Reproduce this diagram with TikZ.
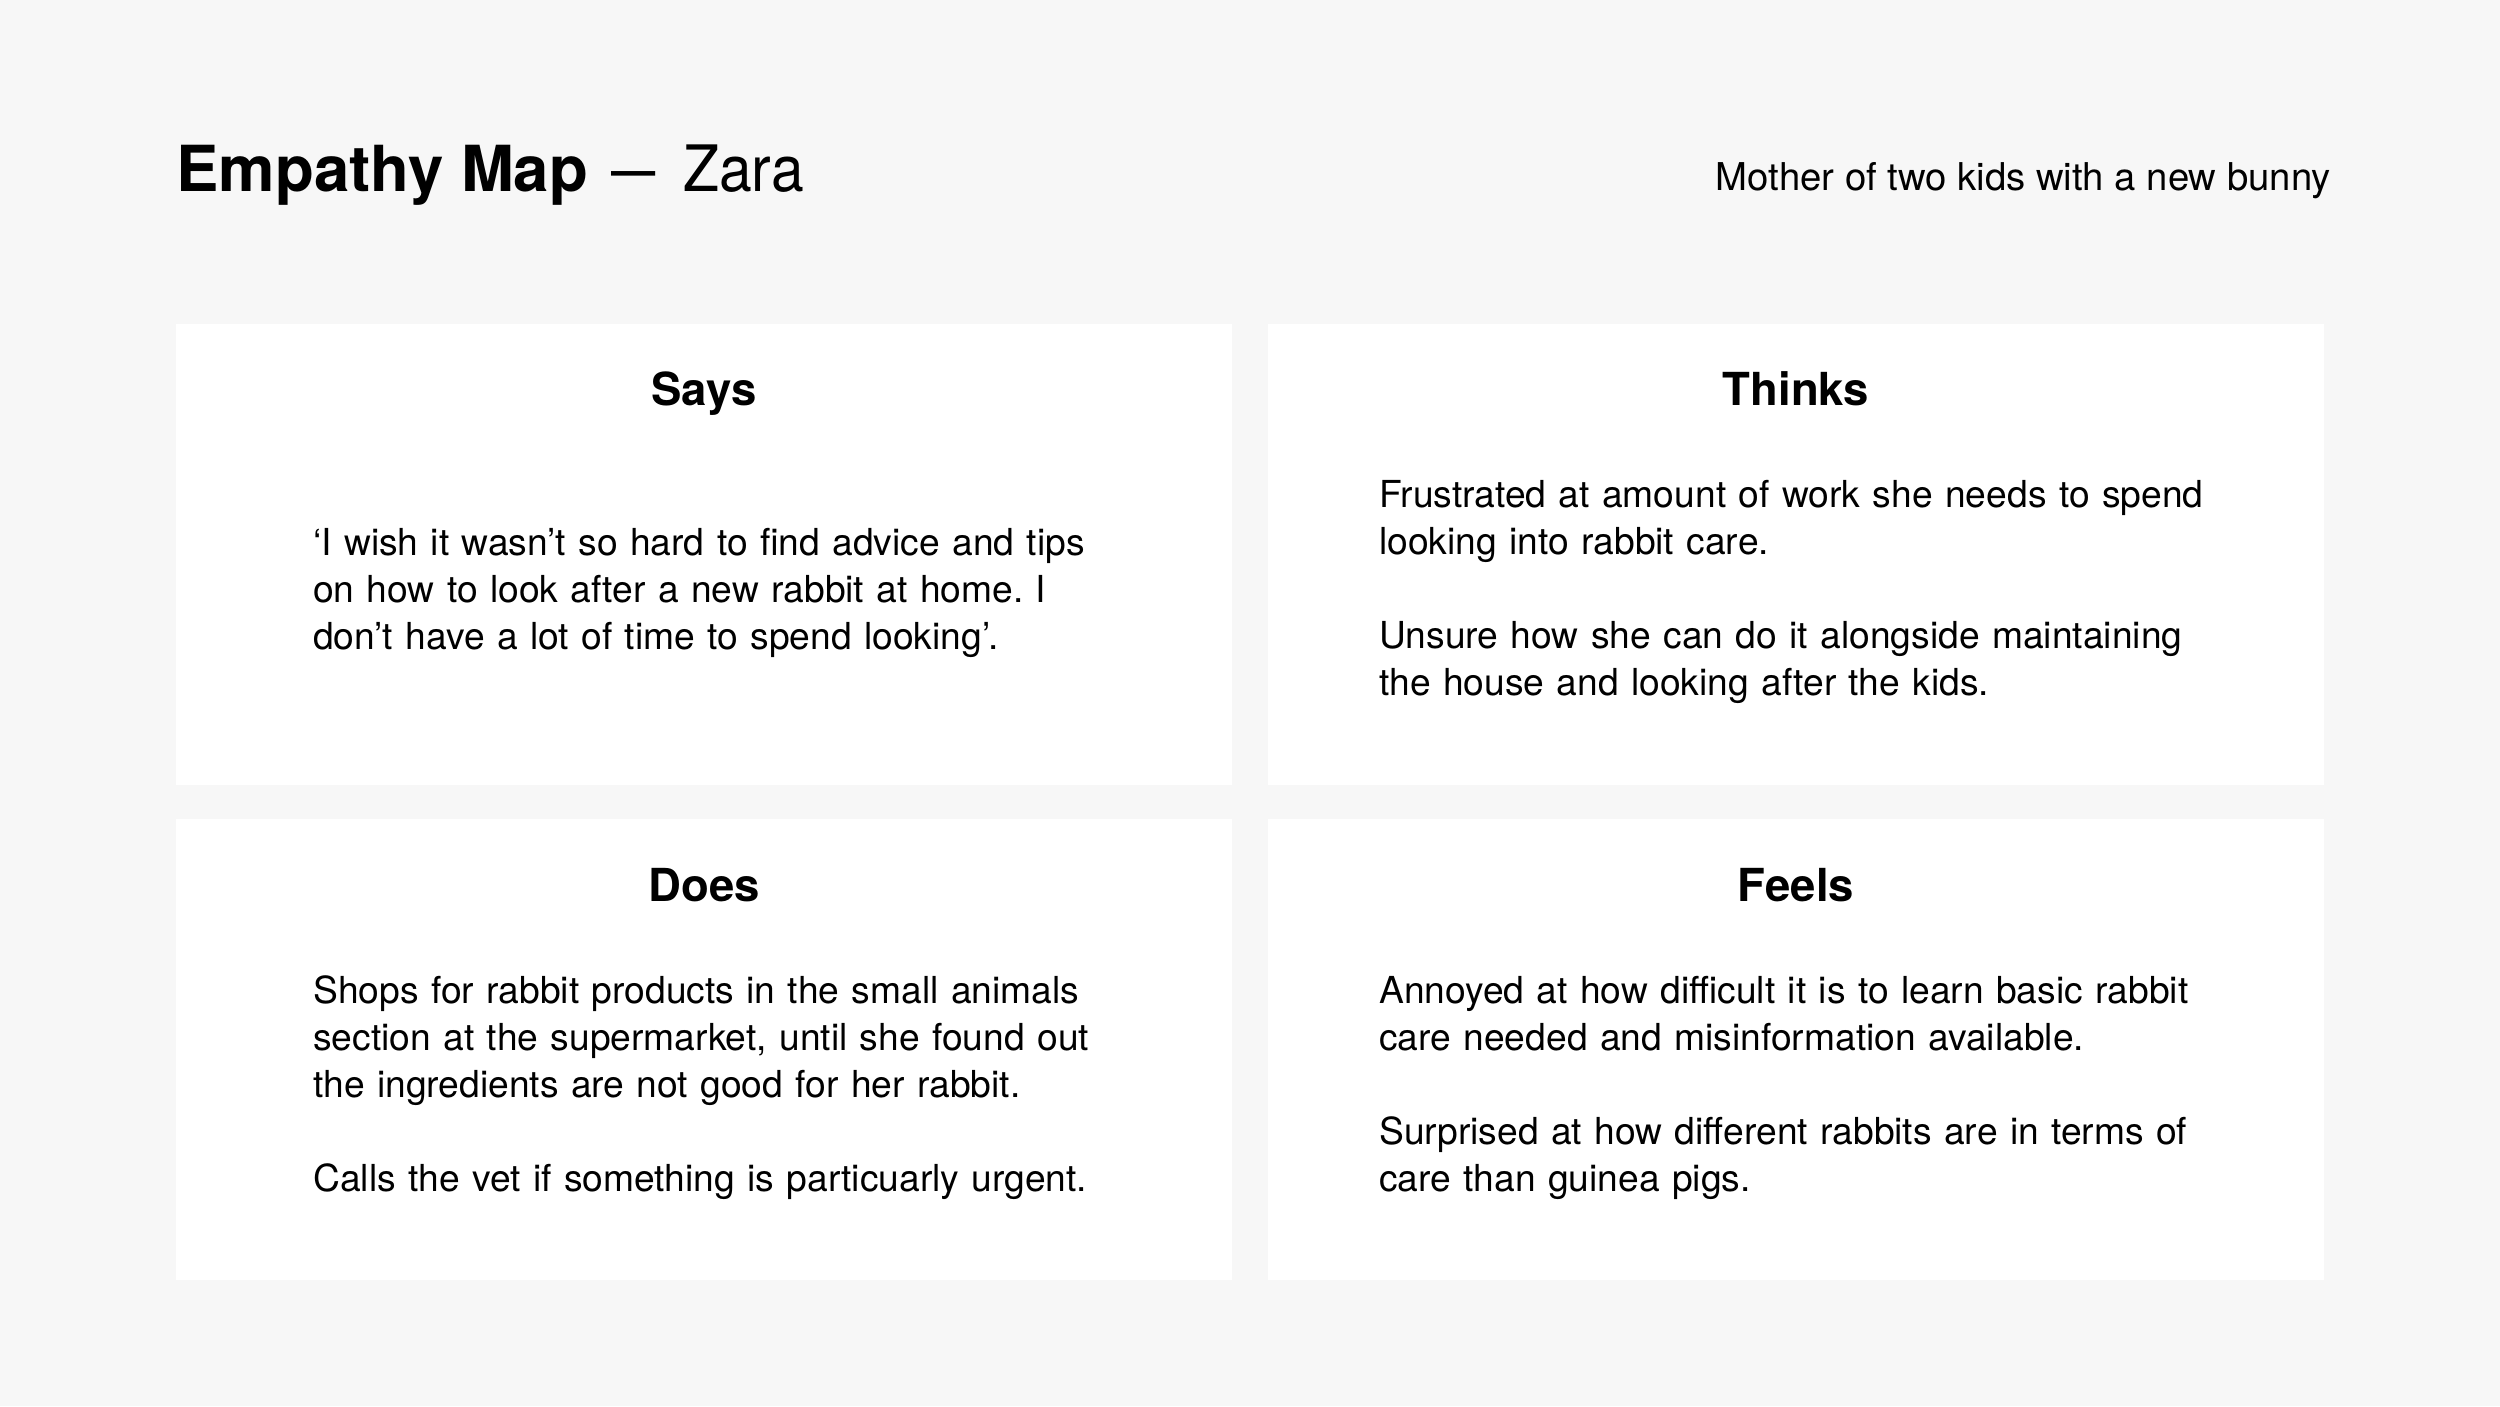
\documentclass[tikz,border=0pt]{standalone}
\usepackage{fontspec}
\setmainfont{TeX Gyre Heros}
\newfontfamily\zarafont[FakeStretch=0.92]{TeX Gyre Heros}
\definecolor{pagebg}{HTML}{F7F7F7}
\definecolor{ink}{HTML}{000000}
\frenchspacing
\begin{document}
\begin{tikzpicture}[x=1pt,y=1pt,
  card/.style={fill=white, draw=none, inner sep=0, minimum width=1056pt, minimum height=461pt},
  cardhead/.style={anchor=base, inner sep=0, text=ink, font=\bfseries\fontsize{45.5}{54}\selectfont},
  cardbody/.style={anchor=north west, inner sep=0, text=ink, text width=920pt, align=left,
                   font=\frenchspacing\fontsize{37.2}{47}\selectfont},
  titlebit/.style={anchor=base west, inner sep=0, text=ink}]
\fill[pagebg] (0,0) rectangle (2500,-1406);
\useasboundingbox (0,0) rectangle (2500,-1406);

% title
\node[titlebit, font=\bfseries\fontsize{63.5}{70}\selectfont] (ttl) at (176,-191) {Empathy Map};
\node[titlebit, font=\zarafont\fontsize{64}{70}\selectfont] (dash) at (611,-191) {\scalebox{0.75}[1]{—}};
\node[titlebit, font=\zarafont\fontsize{64}{70}\selectfont] (zara) at (683,-191) {Zara};
\node[anchor=base east, inner sep=0, text=ink, font=\fontsize{38.3}{46}\selectfont] (sub) at (2331,-190) {Mother of two kids with a new bunny};

% cards
\node[card] (says) at (704,-554.5) {};
\node[card] (thinks) at (1796,-554.5) {};
\node[card] (does) at (704,-1049.5) {};
\node[card] (feels) at (1796,-1049.5) {};

\node[cardhead] (saysh) at (704,-405) {Says};
\node[cardhead] (thinksh) at (1796,-405) {Thinks};
\node[cardhead] (doesh) at (704,-901) {Does};
\node[cardhead] (feelsh) at (1796,-901) {Feels};

\node[cardbody] (saysb) at (313,-522.1) {\strut‘I wish it wasn’t so hard to find advice and tips\\
on how to look after a new rabbit at home. I\\
don’t have a lot of time to spend looking’.};

\node[cardbody] (thinksb) at (1379,-474.1) {\strut Frustrated at amount of work she needs to spend\\
looking into rabbit care.\\[47pt]
Unsure how she can do it alongside maintaining\\
the house and looking after the kids.};

\node[cardbody] (doesb) at (313,-970.1) {\strut Shops for rabbit products in the small animals\\
section at the supermarket, until she found out\\
the ingredients are not good for her rabbit.\\[47pt]
Calls the vet if something is particuarly urgent.};

\node[cardbody] (feelsb) at (1379,-970.1) {\strut Annoyed at how difficult it is to learn basic rabbit\\
care needed and misinformation available.\\[47pt]
Surprised at how different rabbits are in terms of\\
care than guinea pigs.};
\end{tikzpicture}
\end{document}
